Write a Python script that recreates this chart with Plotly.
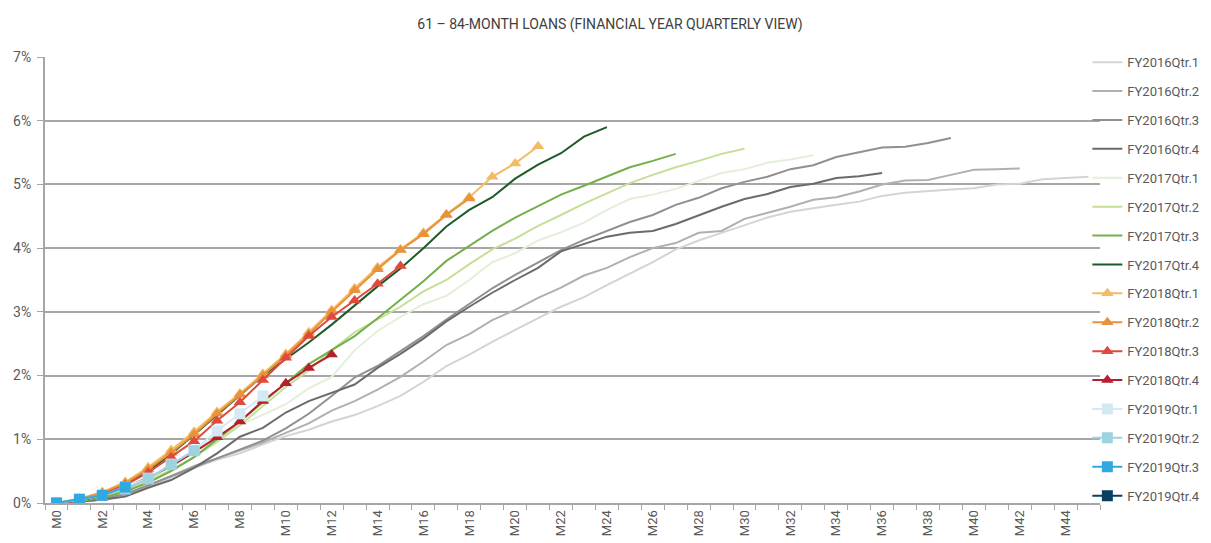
import plotly.graph_objects as go

months = [f"M{i}" for i in range(46)]

fy2016_q1 = [0, 0.02, 0.05, 0.12, 0.25, 0.40, 0.55, 0.68, 0.78, 0.92, 1.05, 1.15, 1.28, 1.38, 1.52, 1.68, 1.90, 2.15, 2.33, 2.53, 2.72, 2.90, 3.08, 3.23, 3.42, 3.60, 3.78, 3.98, 4.12, 4.24, 4.36, 4.48, 4.57, 4.63, 4.68, 4.73, 4.82, 4.87, 4.90, 4.92, 4.94, 5.00, 5.01, 5.08, 5.10, 5.12]
fy2016_q2 = [0, 0.02, 0.06, 0.13, 0.27, 0.42, 0.58, 0.70, 0.82, 0.95, 1.10, 1.25, 1.45, 1.60, 1.78, 1.98, 2.22, 2.48, 2.65, 2.87, 3.03, 3.22, 3.38, 3.57, 3.69, 3.86, 4.00, 4.08, 4.24, 4.27, 4.46, 4.55, 4.65, 4.76, 4.80, 4.89, 5.00, 5.06, 5.07, 5.15, 5.23, 5.24, 5.25]
fy2016_q3 = [0, 0.02, 0.06, 0.14, 0.28, 0.42, 0.56, 0.70, 0.83, 0.98, 1.17, 1.40, 1.68, 1.97, 2.15, 2.38, 2.62, 2.88, 3.12, 3.37, 3.58, 3.77, 3.97, 4.13, 4.27, 4.41, 4.52, 4.68, 4.79, 4.94, 5.04, 5.12, 5.24, 5.30, 5.43, 5.51, 5.58, 5.59, 5.65, 5.73]
fy2016_q4 = [0, 0.02, 0.05, 0.10, 0.24, 0.36, 0.55, 0.78, 1.04, 1.18, 1.42, 1.60, 1.73, 1.86, 2.12, 2.34, 2.58, 2.85, 3.08, 3.30, 3.50, 3.69, 3.95, 4.06, 4.18, 4.24, 4.27, 4.38, 4.52, 4.65, 4.77, 4.85, 4.96, 5.01, 5.10, 5.13, 5.18]
fy2017_q1 = [0, 0.03, 0.10, 0.22, 0.38, 0.58, 0.82, 1.05, 1.22, 1.38, 1.55, 1.80, 1.98, 2.40, 2.70, 2.92, 3.12, 3.25, 3.50, 3.78, 3.92, 4.12, 4.25, 4.40, 4.60, 4.77, 4.84, 4.93, 5.06, 5.18, 5.24, 5.34, 5.39, 5.46]
fy2017_q2 = [0, 0.03, 0.10, 0.20, 0.35, 0.52, 0.72, 0.96, 1.22, 1.52, 1.82, 2.08, 2.40, 2.68, 2.88, 3.08, 3.32, 3.50, 3.75, 3.98, 4.15, 4.35, 4.52, 4.70, 4.86, 5.02, 5.15, 5.27, 5.37, 5.48, 5.56]
fy2017_q3 = [0, 0.03, 0.08, 0.18, 0.32, 0.50, 0.72, 1.00, 1.28, 1.58, 1.88, 2.18, 2.40, 2.62, 2.90, 3.19, 3.48, 3.80, 4.03, 4.27, 4.48, 4.66, 4.84, 4.98, 5.12, 5.27, 5.37, 5.48]
fy2017_q4 = [0, 0.05, 0.14, 0.29, 0.50, 0.77, 1.07, 1.38, 1.70, 2.00, 2.26, 2.52, 2.80, 3.10, 3.40, 3.68, 4.00, 4.34, 4.60, 4.80, 5.09, 5.31, 5.49, 5.75, 5.90]
fy2018_q1 = [0, 0.07, 0.17, 0.33, 0.56, 0.83, 1.12, 1.43, 1.72, 2.03, 2.34, 2.68, 3.03, 3.37, 3.70, 3.98, 4.24, 4.53, 4.80, 5.12, 5.33, 5.60]
fy2018_q2 = [0, 0.06, 0.16, 0.31, 0.53, 0.79, 1.08, 1.40, 1.70, 2.00, 2.32, 2.65, 3.00, 3.34, 3.67, 3.97, 4.22, 4.52, 4.78]
fy2018_q3 = [0, 0.04, 0.13, 0.28, 0.48, 0.72, 0.97, 1.29, 1.58, 1.93, 2.28, 2.62, 2.92, 3.18, 3.44, 3.72]
fy2018_q4 = [0, 0.04, 0.12, 0.24, 0.40, 0.58, 0.80, 1.03, 1.28, 1.60, 1.88, 2.12, 2.33]
fy2019_q1 = [0, 0.05, 0.12, 0.25, 0.39, 0.61, 0.83, 1.13, 1.40, 1.68]
fy2019_q2 = [0, 0.05, 0.12, 0.22, 0.38, 0.60, 0.82]
fy2019_q3 = [0, 0.06, 0.12, 0.25]
fy2019_q4 = [None]

series = [
    ("FY2016Qtr.1", fy2016_q1, "#d4d4d4", None),
    ("FY2016Qtr.2", fy2016_q2, "#b0b0b0", None),
    ("FY2016Qtr.3", fy2016_q3, "#909090", None),
    ("FY2016Qtr.4", fy2016_q4, "#6b6b6b", None),
    ("FY2017Qtr.1", fy2017_q1, "#e2efd9", None),
    ("FY2017Qtr.2", fy2017_q2, "#c6de96", None),
    ("FY2017Qtr.3", fy2017_q3, "#72b04a", None),
    ("FY2017Qtr.4", fy2017_q4, "#1f5a29", None),
    ("FY2018Qtr.1", fy2018_q1, "#f3bb63", "triangle-up"),
    ("FY2018Qtr.2", fy2018_q2, "#e8923b", "triangle-up"),
    ("FY2018Qtr.3", fy2018_q3, "#de4a3e", "triangle-up"),
    ("FY2018Qtr.4", fy2018_q4, "#b51f2e", "triangle-up"),
    ("FY2019Qtr.1", fy2019_q1, "#d3eaf4", "square"),
    ("FY2019Qtr.2", fy2019_q2, "#9ed2de", "square"),
    ("FY2019Qtr.3", fy2019_q3, "#30a8e0", "square"),
    ("FY2019Qtr.4", fy2019_q4, "#0a3f63", "square"),
]

fig = go.Figure()
for name, vals, color, sym in series:
    xs = list(range(len(vals)))
    if sym is None:
        fig.add_trace(go.Scatter(x=xs, y=vals, name=name, mode="lines",
                                 line=dict(color=color, width=2),
                                 legendgroup=name))
    else:
        fig.add_trace(go.Scatter(x=xs, y=vals, name=name, mode="lines+markers",
                                 line=dict(color=color, width=2),
                                 marker=dict(symbol=sym, size=11, color=color),
                                 legendgroup=name))

# page body has an 8px default margin, so the figure is 8px smaller
fig.update_layout(
    width=1203, height=535,
    margin=dict(l=37, r=111, t=49, b=40, autoexpand=False),
    paper_bgcolor="white", plot_bgcolor="white",
    font=dict(family="Roboto", color="#595959"),
    title=dict(text="61 – 84-MONTH LOANS (FINANCIAL YEAR QUARTERLY VIEW)",
               x=0.5004, xref="container", xanchor="center",
               y=0.979, yref="container", yanchor="top",
               font=dict(size=14, color="#404040")),
    legend=dict(x=0.988, xanchor="left", y=1.022, yanchor="top",
                font=dict(size=13, color="#595959"),
                tracegroupgap=9, itemwidth=30, maxheight=530,
                bgcolor="rgba(0,0,0,0)"),
    showlegend=True,
)

fig.update_xaxes(
    range=[-0.5, 45.5],
    automargin=False,
    tickmode="array",
    tickvals=list(range(0, 46, 2)),
    ticktext=[months[i] for i in range(0, 46, 2)],
    tickangle=-90,
    ticks="",
    tickfont=dict(size=13, color="#595959"),
    showgrid=False,
    showline=True, linecolor="#a6a6a6", linewidth=2,
    zeroline=False,
    minor=dict(ticks="outside", tickmode="linear", tick0=0.5, dtick=1,
               ticklen=5, tickcolor="#a6a6a6", tickwidth=1, showgrid=False),
)
fig.update_yaxes(
    range=[0, 7],
    automargin=False,
    dtick=1,
    ticksuffix="%",
    ticks="outside", ticklen=6, tickcolor="#a6a6a6",
    ticklabelstandoff=3,
    tickfont=dict(size=14, color="#595959"),
    showgrid=True, gridcolor="#a6a6a6", gridwidth=1.5,
    showline=True, linecolor="#a6a6a6", linewidth=2,
    zeroline=False,
)

fig.write_html("out.html")
